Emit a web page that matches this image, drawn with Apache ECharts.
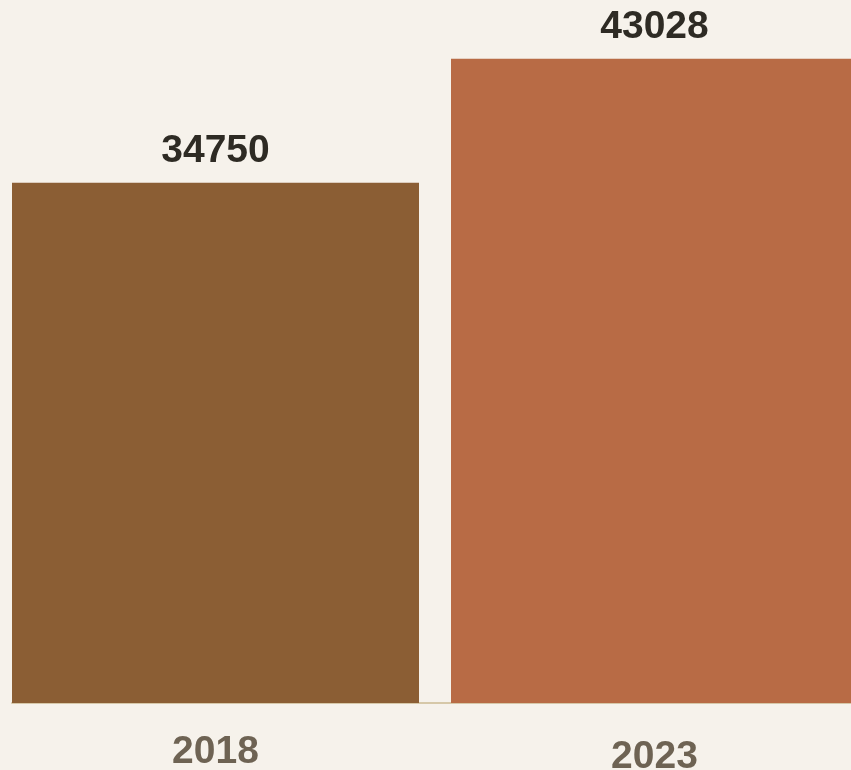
<!DOCTYPE html>
<html><head><meta charset="utf-8">
<script src="https://cdn.jsdelivr.net/npm/echarts@6/dist/echarts.min.js"></script>
<style>html,body{margin:0;padding:0;background:#f6f2eb}#c{width:851px;height:770px}</style>
</head><body><div id="c"></div>
<script>
const categories = ['2018', '2023'];
const values = [34750, 43028];
const barColors = ['#8b5e34', '#b86b45'];

const chart = echarts.init(document.getElementById('c'));
const font = '"Liberation Sans", Arial, sans-serif';
chart.setOption({
  backgroundColor: '#f6f2eb',
  animation: false,
  grid: [
    { left: -4, width: 878, top: 0, bottom: 67, outerBoundsMode: 'none', containLabel: false },
    { left: 12, right: -40, top: 0, bottom: 67, outerBoundsMode: 'none', containLabel: false }
  ],
  xAxis: [{
    type: 'category',
    gridIndex: 0,
    data: categories.map((c, i) => i === 1 ? { value: c, textStyle: { padding: [5, 0, 0, 0] } } : c),
    axisLine: { show: false },
    axisTick: { show: false },
    axisLabel: { color: '#6e6353', fontSize: 39, fontWeight: 'bold', fontFamily: font, margin: 30 }
  }, {
    type: 'category',
    gridIndex: 1,
    data: ['', ''],
    axisLine: { show: true, lineStyle: { color: '#d6c8a8', width: 2 } },
    axisTick: { show: false },
    axisLabel: { show: false }
  }],
  yAxis: [
    { type: 'value', gridIndex: 0, min: 0, max: 46950, show: false },
    { type: 'value', gridIndex: 1, min: 0, max: 1, show: false }
  ],
  series: [{
    type: 'bar',
    xAxisIndex: 0, yAxisIndex: 0,
    data: values.map((v, i) => ({ value: v, itemStyle: { color: barColors[i], borderWidth: 0 } })),
    barWidth: 407,
    label: {
      show: true, position: 'top', distance: 12,
      color: '#2e2b24', fontSize: 39, fontWeight: 'bold', fontFamily: font
    }
  }]
});
</script></body></html>
